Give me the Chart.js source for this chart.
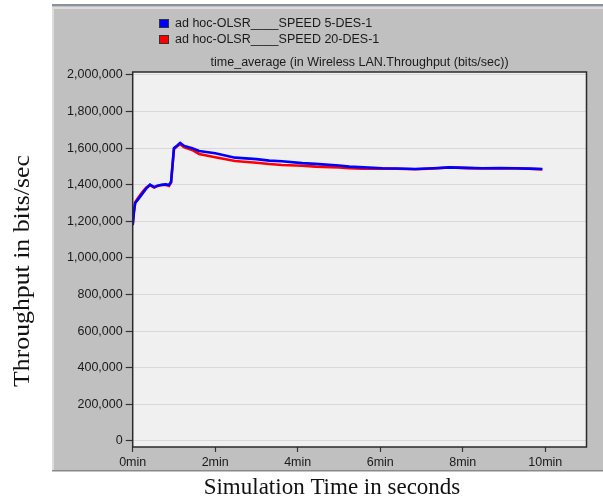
<!DOCTYPE html>
<html>
<head>
<meta charset="utf-8">
<script src="https://cdn.jsdelivr.net/npm/chart.js@4/dist/chart.umd.min.js"></script>
<style>
  html, body { margin: 0; padding: 0; background: #ffffff; }
  #wrap { position: relative; width: 603px; height: 500px; }
</style>
</head>
<body>
<div id="wrap"><canvas id="chart" width="603" height="500"></canvas></div>
<script>
// Simulation time (minutes) at which the time-averaged throughput was sampled
const timeMin = [0, 0.03, 0.06, 0.13, 0.23, 0.33, 0.42, 0.52, 0.6, 0.7, 0.8, 0.88, 0.93, 1.0, 1.08,
  1.15, 1.25, 1.44, 1.61, 2.0, 2.48, 3.0, 3.31, 3.62, 4.11, 4.43, 5.0, 5.25, 5.6, 6.05, 6.4, 6.85,
  7.3, 7.68, 8.1, 8.48, 8.9, 9.28, 9.6, 9.93];

// Wireless LAN throughput, bits/sec
const speed5 = [1180000, 1250000, 1300000, 1320000, 1350000, 1380000, 1400000, 1387000, 1395000,
  1400000, 1402000, 1398000, 1416000, 1600000, 1615000, 1629000, 1612000, 1600000, 1584000, 1572000,
  1548000, 1540000, 1532000, 1528000, 1518000, 1514000, 1505000, 1499000, 1495000, 1490000, 1489000,
  1486000, 1490000, 1495000, 1492000, 1490000, 1491000, 1490000, 1488000, 1486000];

const speed20 = [1180000, 1255000, 1305000, 1328000, 1358000, 1385000, 1398000, 1385000, 1393000,
  1398000, 1400000, 1394000, 1412000, 1595000, 1610000, 1622000, 1605000, 1590000, 1568000, 1550000,
  1530000, 1520000, 1513000, 1508000, 1504000, 1499000, 1495000, 1490000, 1488000, 1488000, 1487000,
  1485000, 1489000, 1494000, 1491000, 1489000, 1490000, 1489000, 1487000, 1484000];

const seriesLabels = ['ad hoc-OLSR____SPEED 5-DES-1', 'ad hoc-OLSR____SPEED 20-DES-1'];
const yTicks = [0, 200000, 400000, 600000, 800000, 1000000, 1200000, 1400000, 1600000, 1800000, 2000000];
const xTicks = [0, 2, 4, 6, 8, 10];

const chartSubtitle = 'time_average (in Wireless LAN.Throughput (bits/sec))';
const xTitle = 'Simulation Time in seconds';
const yTitle = 'Throughput in bits/sec';

const SANS = '"Liberation Sans", Arial, sans-serif';
const SERIF = '"Liberation Serif", "Times New Roman", serif';

const toPoints = (vals) => vals.map((v, i) => ({ x: timeMin[i], y: v }));

// Gray panel, plot background, frame, legend and titles
const decor = {
  id: 'decor',
  beforeDraw(chart) {
    const ctx = chart.ctx;
    const a = chart.chartArea;
    ctx.save();
    ctx.fillStyle = '#ffffff';
    ctx.fillRect(0, 0, chart.width, chart.height);
    // panel
    ctx.fillStyle = '#c0c0c0';
    ctx.fillRect(52, 5, chart.width - 52, 466);
    ctx.fillStyle = '#8791a0';
    ctx.fillRect(52, 4, chart.width - 52, 2);
    ctx.fillStyle = '#dcdcdc';
    ctx.fillRect(52, 7, chart.width - 52, 2);
    ctx.fillRect(52, 7, 2, 463);
    ctx.fillStyle = '#8a8a8a';
    ctx.fillRect(52, 470, chart.width - 52, 1.5);
    // plot background
    ctx.fillStyle = '#f0f0f0';
    ctx.fillRect(a.left, a.top, a.right - a.left, a.bottom - a.top);
    ctx.restore();
  },
  afterDraw(chart) {
    const ctx = chart.ctx;
    const a = chart.chartArea;
    ctx.save();
    // plot frame
    ctx.strokeStyle = '#2a2a2a';
    ctx.lineWidth = 1.5;
    ctx.strokeRect(a.left, a.top, a.right - a.left, a.bottom - a.top);

    // legend
    ctx.font = '12.5px ' + SANS;
    ctx.textBaseline = 'middle';
    ctx.textAlign = 'left';
    chart.data.datasets.forEach((ds, i) => {
      const y = 19 + i * 16;
      ctx.fillStyle = ds.borderColor;
      ctx.fillRect(159, y, 10, 9);
      ctx.strokeStyle = '#333333';
      ctx.lineWidth = 1;
      ctx.strokeRect(159.5, y + 0.5, 9, 8);
      ctx.fillStyle = '#1a1a1a';
      ctx.fillText(ds.label, 175, y + 4.5);
    });

    // subtitle over the plot
    ctx.textAlign = 'center';
    ctx.fillText(chartSubtitle, (a.left + a.right) / 2, 63);

    // axis titles
    ctx.fillStyle = '#111111';
    ctx.font = '23px ' + SERIF;
    ctx.textBaseline = 'middle';
    ctx.fillText(xTitle, 332, 488);
    ctx.translate(23, 271);
    ctx.rotate(-Math.PI / 2);
    ctx.scale(1.12, 1);
    ctx.fillText(yTitle, 0, 0);
    ctx.restore();
  }
};

new Chart(document.getElementById('chart'), {
  type: 'line',
  data: {
    datasets: [
      { label: seriesLabels[0], data: toPoints(speed5), borderColor: '#0000ff', backgroundColor: '#0000ff',
        borderWidth: 2.6, pointRadius: 0, tension: 0 },
      { label: seriesLabels[1], data: toPoints(speed20), borderColor: '#ff0000', backgroundColor: '#ff0000',
        borderWidth: 2.6, pointRadius: 0, tension: 0 }
    ]
  },
  options: {
    responsive: false,
    animation: false,
    layout: { padding: { top: 72, right: 16.5, left: 0, bottom: 0 } },
    plugins: { legend: { display: false }, tooltip: { enabled: false }, title: { display: false } },
    scales: {
      x: {
        type: 'linear',
        min: 0,
        max: 11,
        afterBuildTicks: (s) => { s.ticks = xTicks.map(v => ({ value: v })); },
        afterFit: (s) => { s.height = 53; },
        grid: { drawOnChartArea: false, tickLength: 5, tickColor: '#333333', tickWidth: 1.2 },
        border: { display: false },
        ticks: {
          color: '#1a1a1a', font: { family: SANS, size: 12.5 }, padding: 3, maxRotation: 0,
          callback: (v) => v + 'min'
        }
      },
      y: {
        type: 'linear',
        min: -33000,
        max: 2016000,
        afterBuildTicks: (s) => { s.ticks = yTicks.map(v => ({ value: v })); },
        afterFit: (s) => { s.width = 132.7; },
        grid: { color: '#d9d9d9', lineWidth: 1, tickLength: 7, tickColor: '#333333', tickWidth: 1.2 },
        border: { display: false },
        ticks: {
          color: '#1a1a1a', font: { family: SANS, size: 12.5 }, padding: 3,
          callback: (v) => v.toLocaleString('en-US')
        }
      }
    }
  },
  plugins: [decor]
});
</script>
</body>
</html>
